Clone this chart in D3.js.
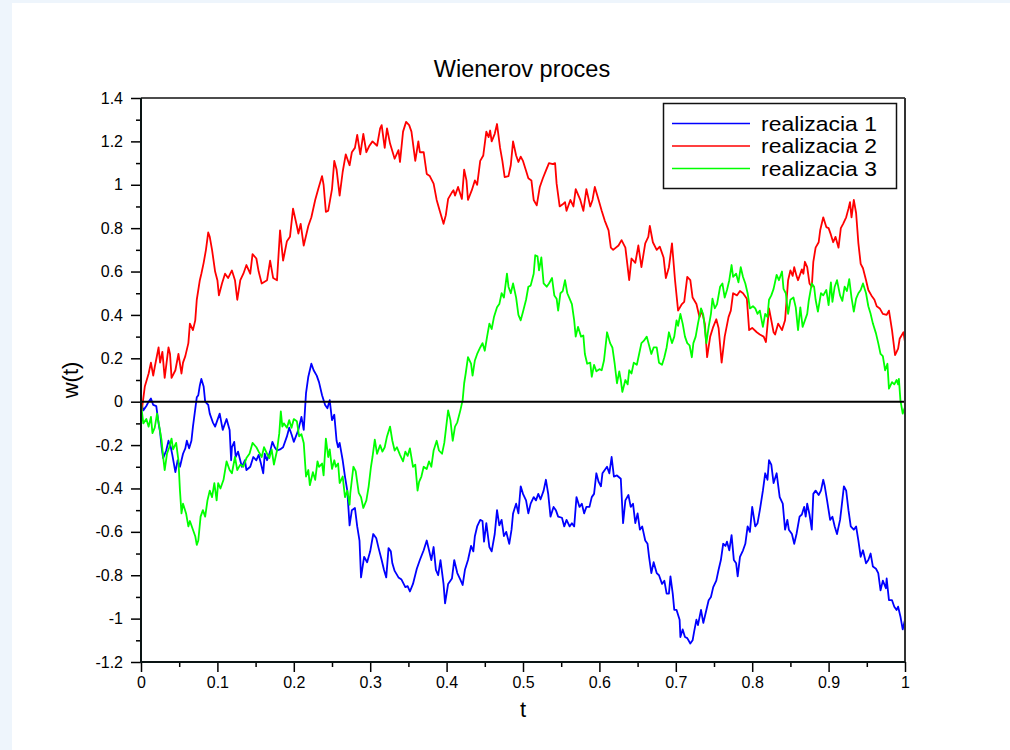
<!DOCTYPE html>
<html>
<head>
<meta charset="utf-8">
<script src="https://cdn.jsdelivr.net/npm/d3@7"></script>
<style>
  html, body { margin: 0; padding: 0; background: #eef5fc; }
  svg { display: block; }
  text { font-family: "Liberation Sans", Arial, Helvetica, sans-serif; fill: #000; }
</style>
</head>
<body>
<script>
// Three sample paths of a Wiener process on [0, 1]

const seriesNames = ["realizacia 1", "realizacia 2", "realizacia 3"];
const seriesColors = ["#0000ff", "#ff0000", "#00ff00"];

const tBlue = [0,0.003,0.007,0.010,0.013,0.016,0.020,0.023,0.025,0.027,0.029,0.033,0.036,0.039,0.041,0.045,0.048,0.051,0.055,0.058,0.060,0.063,0.066,0.068,0.073,0.075,0.077,0.079,0.082,0.084,0.088,0.090,0.094,0.097,0.100,0.103,0.107,0.112,0.116,0.118,0.119,0.122,0.124,0.127,0.132,0.136,0.138,0.143,0.147,0.151,0.154,0.157,0.160,0.162,0.165,0.169,0.172,0.175,0.178,0.182,0.186,0.191,0.194,0.197,0.200,0.206,0.210,0.213,0.216,0.219,0.223,0.226,0.230,0.233,0.237,0.241,0.244,0.247,0.250,0.253,0.256,0.258,0.260,0.264,0.267,0.270,0.273,0.276,0.280,0.283,0.286,0.288,0.292,0.296,0.300,0.304,0.308,0.311,0.315,0.318,0.321,0.324,0.327,0.329,0.332,0.337,0.341,0.346,0.349,0.352,0.356,0.361,0.365,0.370,0.374,0.377,0.380,0.383,0.386,0.389,0.392,0.396,0.398,0.402,0.407,0.410,0.414,0.418,0.421,0.424,0.428,0.432,0.435,0.437,0.440,0.444,0.447,0.449,0.452,0.456,0.459,0.463,0.466,0.469,0.472,0.475,0.478,0.482,0.485,0.487,0.491,0.494,0.497,0.500,0.504,0.507,0.510,0.514,0.517,0.520,0.523,0.527,0.530,0.533,0.536,0.540,0.543,0.546,0.551,0.554,0.557,0.561,0.564,0.567,0.570,0.574,0.577,0.580,0.583,0.587,0.590,0.593,0.596,0.599,0.602,0.604,0.607,0.610,0.613,0.616,0.619,0.623,0.628,0.631,0.634,0.638,0.641,0.644,0.647,0.650,0.653,0.656,0.660,0.663,0.665,0.668,0.671,0.675,0.678,0.682,0.685,0.688,0.691,0.693,0.696,0.698,0.701,0.705,0.706,0.709,0.712,0.715,0.719,0.722,0.724,0.727,0.729,0.733,0.736,0.740,0.743,0.746,0.749,0.753,0.756,0.759,0.762,0.765,0.767,0.770,0.773,0.776,0.779,0.781,0.784,0.788,0.791,0.794,0.797,0.800,0.804,0.807,0.810,0.814,0.817,0.820,0.822,0.825,0.828,0.832,0.836,0.840,0.843,0.846,0.848,0.852,0.855,0.858,0.862,0.865,0.868,0.870,0.872,0.875,0.878,0.880,0.883,0.887,0.890,0.893,0.895,0.898,0.902,0.905,0.908,0.911,0.915,0.917,0.920,0.923,0.926,0.929,0.933,0.936,0.939,0.942,0.945,0.949,0.952,0.955,0.958,0.962,0.965,0.968,0.971,0.975,0.976,0.979,0.983,0.986,0.989,0.991,0.994,0.997,1.000];
const wBlue = [0,-0.04,-0.02,0.0,0.015,-0.015,-0.02,-0.10,-0.14,-0.21,-0.26,-0.225,-0.18,-0.21,-0.245,-0.325,-0.27,-0.30,-0.24,-0.215,-0.18,-0.215,-0.18,-0.115,0.02,0.03,0.075,0.105,0.07,0.0,-0.015,-0.055,-0.095,-0.115,-0.085,-0.055,-0.13,-0.08,-0.13,-0.27,-0.21,-0.185,-0.255,-0.23,-0.30,-0.27,-0.315,-0.30,-0.255,-0.27,-0.245,-0.285,-0.33,-0.24,-0.27,-0.23,-0.185,-0.21,-0.225,-0.22,-0.21,-0.16,-0.12,-0.15,-0.185,-0.13,-0.07,-0.13,0.04,0.115,0.175,0.145,0.12,0.09,0.03,-0.015,-0.03,0.007,-0.085,-0.06,-0.18,-0.21,-0.19,-0.27,-0.345,-0.41,-0.57,-0.50,-0.49,-0.575,-0.64,-0.81,-0.715,-0.74,-0.69,-0.61,-0.63,-0.675,-0.73,-0.775,-0.81,-0.675,-0.69,-0.745,-0.78,-0.81,-0.82,-0.855,-0.85,-0.875,-0.84,-0.77,-0.73,-0.685,-0.64,-0.685,-0.73,-0.67,-0.775,-0.80,-0.73,-0.84,-0.93,-0.84,-0.815,-0.73,-0.79,-0.82,-0.845,-0.775,-0.73,-0.665,-0.69,-0.62,-0.575,-0.545,-0.55,-0.645,-0.56,-0.67,-0.69,-0.61,-0.50,-0.57,-0.545,-0.62,-0.60,-0.655,-0.59,-0.515,-0.47,-0.515,-0.39,-0.425,-0.455,-0.515,-0.47,-0.44,-0.455,-0.425,-0.45,-0.41,-0.36,-0.425,-0.53,-0.485,-0.50,-0.53,-0.535,-0.575,-0.545,-0.575,-0.56,-0.575,-0.44,-0.485,-0.47,-0.515,-0.485,-0.485,-0.44,-0.425,-0.33,-0.37,-0.39,-0.33,-0.315,-0.30,-0.33,-0.255,-0.345,-0.34,-0.355,-0.56,-0.455,-0.43,-0.485,-0.47,-0.56,-0.515,-0.59,-0.575,-0.64,-0.655,-0.715,-0.79,-0.74,-0.79,-0.80,-0.84,-0.825,-0.885,-0.885,-0.805,-0.885,-0.96,-0.96,-1.005,-1.085,-1.05,-1.085,-1.09,-1.115,-1.10,-1.06,-1.005,-1.03,-0.96,-1.02,-0.96,-0.915,-0.90,-0.855,-0.825,-0.775,-0.73,-0.655,-0.665,-0.645,-0.685,-0.615,-0.73,-0.745,-0.805,-0.715,-0.685,-0.655,-0.575,-0.60,-0.485,-0.575,-0.56,-0.50,-0.41,-0.33,-0.36,-0.27,-0.29,-0.375,-0.33,-0.44,-0.47,-0.59,-0.545,-0.59,-0.61,-0.655,-0.61,-0.53,-0.52,-0.485,-0.53,-0.47,-0.52,-0.59,-0.425,-0.41,-0.43,-0.41,-0.36,-0.39,-0.455,-0.545,-0.53,-0.575,-0.61,-0.545,-0.485,-0.39,-0.41,-0.50,-0.575,-0.59,-0.575,-0.64,-0.715,-0.685,-0.745,-0.73,-0.70,-0.76,-0.77,-0.79,-0.87,-0.825,-0.86,-0.815,-0.915,-0.915,-0.945,-0.96,-0.945,-0.99,-1.05,-1.005];

const tRed = [0,0.001,0.005,0.010,0.013,0.016,0.018,0.023,0.025,0.028,0.031,0.036,0.038,0.040,0.045,0.049,0.053,0.055,0.058,0.062,0.064,0.068,0.071,0.073,0.077,0.079,0.082,0.085,0.088,0.090,0.093,0.097,0.100,0.102,0.106,0.110,0.114,0.119,0.123,0.126,0.130,0.134,0.138,0.143,0.146,0.151,0.154,0.158,0.165,0.169,0.173,0.178,0.182,0.186,0.191,0.195,0.199,0.204,0.206,0.209,0.213,0.219,0.223,0.228,0.232,0.237,0.239,0.242,0.245,0.250,0.253,0.256,0.260,0.264,0.268,0.273,0.276,0.280,0.283,0.287,0.291,0.295,0.299,0.303,0.309,0.313,0.315,0.319,0.322,0.326,0.332,0.337,0.339,0.343,0.347,0.351,0.354,0.359,0.363,0.365,0.370,0.374,0.378,0.383,0.387,0.391,0.396,0.399,0.402,0.407,0.409,0.411,0.415,0.420,0.423,0.426,0.428,0.433,0.437,0.440,0.444,0.448,0.452,0.455,0.457,0.459,0.463,0.466,0.470,0.473,0.476,0.481,0.484,0.487,0.491,0.494,0.497,0.500,0.504,0.507,0.511,0.514,0.518,0.522,0.526,0.530,0.534,0.539,0.542,0.544,0.548,0.552,0.555,0.557,0.562,0.566,0.569,0.575,0.579,0.583,0.588,0.591,0.594,0.599,0.603,0.607,0.612,0.615,0.618,0.625,0.629,0.634,0.639,0.642,0.647,0.651,0.655,0.660,0.664,0.666,0.670,0.675,0.679,0.684,0.687,0.691,0.695,0.699,0.703,0.708,0.711,0.715,0.719,0.722,0.727,0.731,0.734,0.738,0.741,0.745,0.749,0.753,0.756,0.760,0.764,0.769,0.772,0.775,0.780,0.784,0.788,0.793,0.796,0.800,0.806,0.810,0.815,0.818,0.822,0.828,0.830,0.834,0.839,0.843,0.847,0.850,0.853,0.855,0.858,0.860,0.865,0.867,0.869,0.872,0.875,0.878,0.880,0.883,0.887,0.889,0.893,0.897,0.900,0.903,0.906,0.909,0.913,0.916,0.919,0.923,0.926,0.928,0.930,0.933,0.936,0.939,0.942,0.945,0.949,0.952,0.956,0.960,0.963,0.967,0.971,0.976,0.979,0.983,0.987,0.991,0.993,0.998,1.000];
const wRed = [0,-0.04,0.07,0.13,0.18,0.12,0.16,0.25,0.18,0.23,0.11,0.25,0.22,0.11,0.145,0.22,0.13,0.18,0.21,0.27,0.36,0.33,0.375,0.47,0.56,0.59,0.64,0.70,0.78,0.76,0.70,0.60,0.56,0.49,0.545,0.59,0.57,0.605,0.56,0.47,0.56,0.59,0.63,0.59,0.68,0.66,0.60,0.545,0.56,0.65,0.57,0.56,0.79,0.65,0.74,0.76,0.89,0.81,0.775,0.82,0.72,0.81,0.85,0.93,0.98,1.04,1.00,0.875,0.88,0.98,1.11,1.07,0.95,1.06,1.14,1.09,1.15,1.17,1.23,1.14,1.235,1.15,1.18,1.20,1.18,1.26,1.275,1.17,1.26,1.19,1.12,1.16,1.105,1.245,1.29,1.275,1.245,1.11,1.20,1.15,1.15,1.05,1.04,1.005,0.93,0.88,0.82,0.86,0.935,0.965,0.975,0.95,0.99,0.935,1.07,1.02,0.93,0.975,1.02,1.00,1.11,1.135,1.245,1.22,1.25,1.20,1.235,1.28,1.17,1.11,1.035,1.04,1.09,1.20,1.135,1.105,1.13,1.11,1.065,1.03,1.02,0.93,0.905,0.99,1.03,1.065,1.10,1.095,1.10,1.005,0.90,0.91,0.92,0.88,0.93,0.90,0.98,0.93,0.88,0.98,0.90,0.93,0.99,0.93,0.88,0.835,0.79,0.71,0.70,0.72,0.745,0.71,0.56,0.66,0.64,0.72,0.62,0.73,0.76,0.81,0.735,0.70,0.715,0.665,0.57,0.62,0.73,0.56,0.42,0.45,0.46,0.575,0.56,0.48,0.45,0.39,0.42,0.36,0.205,0.30,0.345,0.38,0.34,0.18,0.30,0.39,0.42,0.50,0.49,0.51,0.50,0.475,0.33,0.34,0.32,0.31,0.30,0.275,0.43,0.32,0.31,0.36,0.33,0.375,0.56,0.605,0.58,0.62,0.58,0.56,0.61,0.59,0.645,0.62,0.545,0.53,0.645,0.71,0.735,0.79,0.85,0.805,0.80,0.77,0.735,0.76,0.71,0.80,0.82,0.85,0.89,0.92,0.85,0.93,0.87,0.73,0.635,0.615,0.56,0.515,0.49,0.47,0.44,0.43,0.405,0.40,0.42,0.33,0.215,0.245,0.29,0.32,0.275];

const tGreen = [0,0.001,0.003,0.007,0.010,0.013,0.015,0.018,0.021,0.024,0.027,0.029,0.031,0.034,0.037,0.040,0.042,0.046,0.049,0.051,0.053,0.055,0.059,0.062,0.064,0.068,0.071,0.073,0.075,0.078,0.081,0.084,0.087,0.090,0.093,0.096,0.099,0.101,0.104,0.108,0.112,0.116,0.119,0.123,0.126,0.130,0.134,0.138,0.142,0.146,0.151,0.154,0.158,0.161,0.165,0.168,0.171,0.174,0.178,0.181,0.183,0.185,0.187,0.191,0.194,0.197,0.200,0.204,0.207,0.210,0.213,0.216,0.219,0.221,0.225,0.228,0.231,0.233,0.237,0.239,0.242,0.245,0.247,0.250,0.253,0.255,0.258,0.260,0.264,0.267,0.270,0.273,0.274,0.278,0.281,0.285,0.288,0.291,0.295,0.298,0.301,0.303,0.306,0.309,0.313,0.316,0.319,0.322,0.326,0.329,0.332,0.335,0.339,0.343,0.346,0.349,0.352,0.356,0.359,0.362,0.364,0.367,0.370,0.374,0.377,0.380,0.383,0.387,0.390,0.394,0.397,0.400,0.402,0.405,0.408,0.411,0.414,0.418,0.421,0.423,0.425,0.428,0.432,0.434,0.437,0.440,0.444,0.447,0.450,0.453,0.456,0.459,0.462,0.466,0.469,0.472,0.475,0.479,0.481,0.484,0.487,0.491,0.494,0.497,0.500,0.504,0.507,0.510,0.514,0.516,0.519,0.521,0.524,0.527,0.531,0.534,0.538,0.541,0.544,0.546,0.549,0.552,0.555,0.558,0.561,0.564,0.567,0.569,0.572,0.576,0.579,0.581,0.584,0.588,0.590,0.593,0.596,0.600,0.603,0.606,0.609,0.610,0.614,0.617,0.620,0.623,0.626,0.628,0.630,0.634,0.637,0.639,0.642,0.645,0.649,0.652,0.655,0.658,0.662,0.665,0.668,0.671,0.675,0.678,0.682,0.685,0.688,0.691,0.695,0.698,0.701,0.703,0.706,0.709,0.712,0.715,0.718,0.721,0.723,0.726,0.729,0.733,0.736,0.740,0.743,0.746,0.748,0.751,0.754,0.758,0.761,0.764,0.767,0.770,0.773,0.775,0.779,0.782,0.785,0.788,0.791,0.794,0.797,0.801,0.804,0.807,0.810,0.814,0.817,0.820,0.822,0.825,0.828,0.832,0.835,0.839,0.841,0.844,0.847,0.850,0.854,0.857,0.860,0.863,0.866,0.869,0.872,0.874,0.878,0.881,0.883,0.886,0.890,0.893,0.897,0.900,0.903,0.905,0.908,0.911,0.915,0.918,0.921,0.924,0.927,0.930,0.933,0.936,0.939,0.942,0.945,0.949,0.952,0.955,0.958,0.962,0.965,0.968,0.971,0.974,0.977,0.979,0.983,0.986,0.989,0.991,0.992,0.994,0.997,1.000];
const wGreen = [0,-0.04,-0.10,-0.08,-0.115,-0.07,-0.145,-0.12,-0.055,-0.115,-0.18,-0.255,-0.315,-0.24,-0.21,-0.17,-0.22,-0.19,-0.27,-0.41,-0.515,-0.47,-0.515,-0.575,-0.55,-0.59,-0.62,-0.66,-0.64,-0.53,-0.50,-0.53,-0.455,-0.41,-0.44,-0.375,-0.455,-0.375,-0.40,-0.36,-0.275,-0.315,-0.33,-0.255,-0.315,-0.29,-0.30,-0.26,-0.24,-0.19,-0.21,-0.23,-0.255,-0.21,-0.24,-0.26,-0.22,-0.29,-0.225,-0.145,-0.045,-0.115,-0.10,-0.12,-0.085,-0.12,-0.08,-0.09,-0.16,-0.15,-0.19,-0.345,-0.315,-0.385,-0.325,-0.36,-0.275,-0.30,-0.285,-0.34,-0.17,-0.255,-0.22,-0.31,-0.27,-0.30,-0.285,-0.375,-0.345,-0.44,-0.41,-0.475,-0.42,-0.30,-0.32,-0.42,-0.44,-0.49,-0.455,-0.39,-0.30,-0.255,-0.175,-0.24,-0.20,-0.23,-0.21,-0.16,-0.115,-0.18,-0.225,-0.21,-0.245,-0.275,-0.23,-0.25,-0.215,-0.30,-0.29,-0.41,-0.37,-0.345,-0.30,-0.31,-0.275,-0.30,-0.225,-0.18,-0.225,-0.24,-0.19,-0.10,-0.04,-0.085,-0.18,-0.115,-0.095,-0.04,0.007,0.085,0.13,0.205,0.175,0.12,0.19,0.22,0.25,0.27,0.235,0.30,0.36,0.335,0.39,0.435,0.45,0.50,0.48,0.59,0.53,0.50,0.545,0.48,0.40,0.375,0.415,0.47,0.53,0.535,0.59,0.675,0.67,0.605,0.665,0.545,0.53,0.545,0.57,0.49,0.475,0.42,0.50,0.51,0.56,0.50,0.475,0.45,0.375,0.30,0.345,0.30,0.305,0.22,0.175,0.18,0.115,0.17,0.14,0.15,0.145,0.19,0.285,0.32,0.27,0.25,0.175,0.085,0.14,0.10,0.045,0.10,0.08,0.145,0.13,0.18,0.17,0.22,0.27,0.28,0.30,0.26,0.22,0.25,0.25,0.18,0.17,0.205,0.25,0.32,0.27,0.30,0.375,0.35,0.405,0.36,0.30,0.27,0.26,0.205,0.27,0.30,0.36,0.43,0.40,0.27,0.345,0.405,0.475,0.43,0.45,0.53,0.545,0.48,0.515,0.56,0.63,0.575,0.59,0.55,0.62,0.575,0.545,0.50,0.43,0.44,0.43,0.405,0.42,0.345,0.405,0.39,0.47,0.49,0.52,0.585,0.56,0.60,0.52,0.50,0.405,0.47,0.48,0.435,0.33,0.435,0.345,0.375,0.405,0.465,0.545,0.53,0.47,0.415,0.50,0.49,0.515,0.445,0.55,0.46,0.53,0.56,0.49,0.465,0.53,0.51,0.565,0.48,0.415,0.475,0.50,0.515,0.545,0.50,0.44,0.405,0.36,0.315,0.27,0.22,0.21,0.145,0.175,0.06,0.09,0.08,0.10,0.08,0.105,0.007,-0.055,-0.025];

const xMajorTicks = [0, 0.1, 0.2, 0.3, 0.4, 0.5, 0.6, 0.7, 0.8, 0.9, 1];
const xMinorTicks = [0.05, 0.15, 0.25, 0.35, 0.45, 0.55, 0.65, 0.75, 0.85, 0.95];
const yMajorTicks = [-1.2, -1, -0.8, -0.6, -0.4, -0.2, 0, 0.2, 0.4, 0.6, 0.8, 1, 1.2, 1.4];
const yMinorTicks = [-1.1, -0.9, -0.7, -0.5, -0.3, -0.1, 0.1, 0.3, 0.5, 0.7, 0.9, 1.1, 1.3];

const W = 1010, H = 750;
const plot = { left: 141, right: 905, top: 98, bottom: 662 };

const svg = d3.select("body").append("svg").attr("width", W).attr("height", H);

// white figure area inside the pale window frame
svg.append("rect").attr("x", 12).attr("y", 3).attr("width", W - 12).attr("height", H - 3).attr("fill", "#ffffff");

const x = d3.scaleLinear().domain([0, 1]).range([plot.left, plot.right]);
const y = d3.scaleLinear().domain([-1.2, 1.4]).range([plot.bottom, plot.top]);

const fmt = d => String(+d.toFixed(2));

// data paths
const series = [
  { t: tBlue, w: wBlue },
  { t: tRed, w: wRed },
  { t: tGreen, w: wGreen }
];
const line = d3.line().x(d => x(d[0])).y(d => y(d[1]));
const paths = svg.append("g").attr("class", "paths");
series.forEach((s, i) => {
  paths.append("path")
    .datum(d3.zip(s.t, s.w))
    .attr("d", line)
    .attr("fill", "none")
    .attr("stroke", seriesColors[i])
    .attr("stroke-width", 1.8)
    .attr("stroke-linejoin", "round");
});

// zero reference line
svg.append("line")
  .attr("x1", x(0)).attr("x2", x(1))
  .attr("y1", y(0)).attr("y2", y(0))
  .attr("stroke", "#000").attr("stroke-width", 2);

// frame: top and right borders
svg.append("line").attr("x1", plot.left).attr("x2", plot.right).attr("y1", plot.top).attr("y2", plot.top)
  .attr("stroke", "#111").attr("stroke-width", 1.5);
svg.append("line").attr("x1", plot.right).attr("x2", plot.right).attr("y1", plot.top).attr("y2", plot.bottom)
  .attr("stroke", "#333").attr("stroke-width", 2);

// axes
function styleAxis(g) {
  g.select(".domain").remove();
  g.selectAll(".tick line").attr("stroke", "#000").attr("stroke-width", 1.5);
  g.selectAll(".tick text").attr("font-size", 16).attr("fill", "#000")
    .attr("font-family", "'Liberation Sans', Arial, sans-serif");
}

svg.append("g").attr("transform", `translate(0,${plot.bottom})`)
  .call(d3.axisBottom(x).tickValues(xMinorTicks).tickSize(5).tickFormat(""))
  .call(styleAxis);
svg.append("g").attr("transform", `translate(0,${plot.bottom})`)
  .call(d3.axisBottom(x).tickValues(xMajorTicks).tickSize(10).tickPadding(5).tickFormat(fmt))
  .call(styleAxis);
svg.append("g").attr("transform", `translate(${plot.left},0)`)
  .call(d3.axisLeft(y).tickValues(yMinorTicks).tickSize(5).tickFormat(""))
  .call(styleAxis);
svg.append("g").attr("transform", `translate(${plot.left},0)`)
  .call(d3.axisLeft(y).tickValues(yMajorTicks).tickSize(10).tickPadding(8).tickFormat(fmt))
  .call(styleAxis);

// left and bottom axis lines
svg.append("line").attr("x1", plot.left).attr("x2", plot.left).attr("y1", plot.top).attr("y2", plot.bottom + 1)
  .attr("stroke", "#0a1414").attr("stroke-width", 2);
svg.append("line").attr("x1", plot.left - 1).attr("x2", plot.right).attr("y1", plot.bottom).attr("y2", plot.bottom)
  .attr("stroke", "#0a1414").attr("stroke-width", 2);

// title and axis labels
svg.append("text").attr("x", 522).attr("y", 77)
  .attr("text-anchor", "middle").attr("font-size", 23.5).text("Wienerov proces");
svg.append("text").attr("x", (plot.left + plot.right) / 2).attr("y", 717)
  .attr("text-anchor", "middle").attr("font-size", 22).text("t");
svg.append("text").attr("transform", `translate(78,${(plot.top + plot.bottom) / 2}) rotate(-90)`)
  .attr("text-anchor", "middle").attr("font-size", 22).text("w(t)");

// legend: rows are tightly packed, so the labels are set slightly condensed in height
const lg = svg.append("g");
lg.append("rect").attr("x", 663.5).attr("y", 103.5).attr("width", 233).attr("height", 85)
  .attr("fill", "#fff").attr("stroke", "#111").attr("stroke-width", 1.5);
seriesNames.forEach((name, i) => {
  const ly = 123.5 + i * 22.5;
  lg.append("line").attr("x1", 672).attr("x2", 750).attr("y1", ly).attr("y2", ly)
    .attr("stroke", seriesColors[i]).attr("stroke-width", 1.5);
  lg.append("text").attr("x", 761).attr("y", ly + 7).attr("font-size", 20.5)
    .attr("textLength", 116).attr("lengthAdjust", "spacingAndGlyphs").text(name);
});
</script>
</body>
</html>
